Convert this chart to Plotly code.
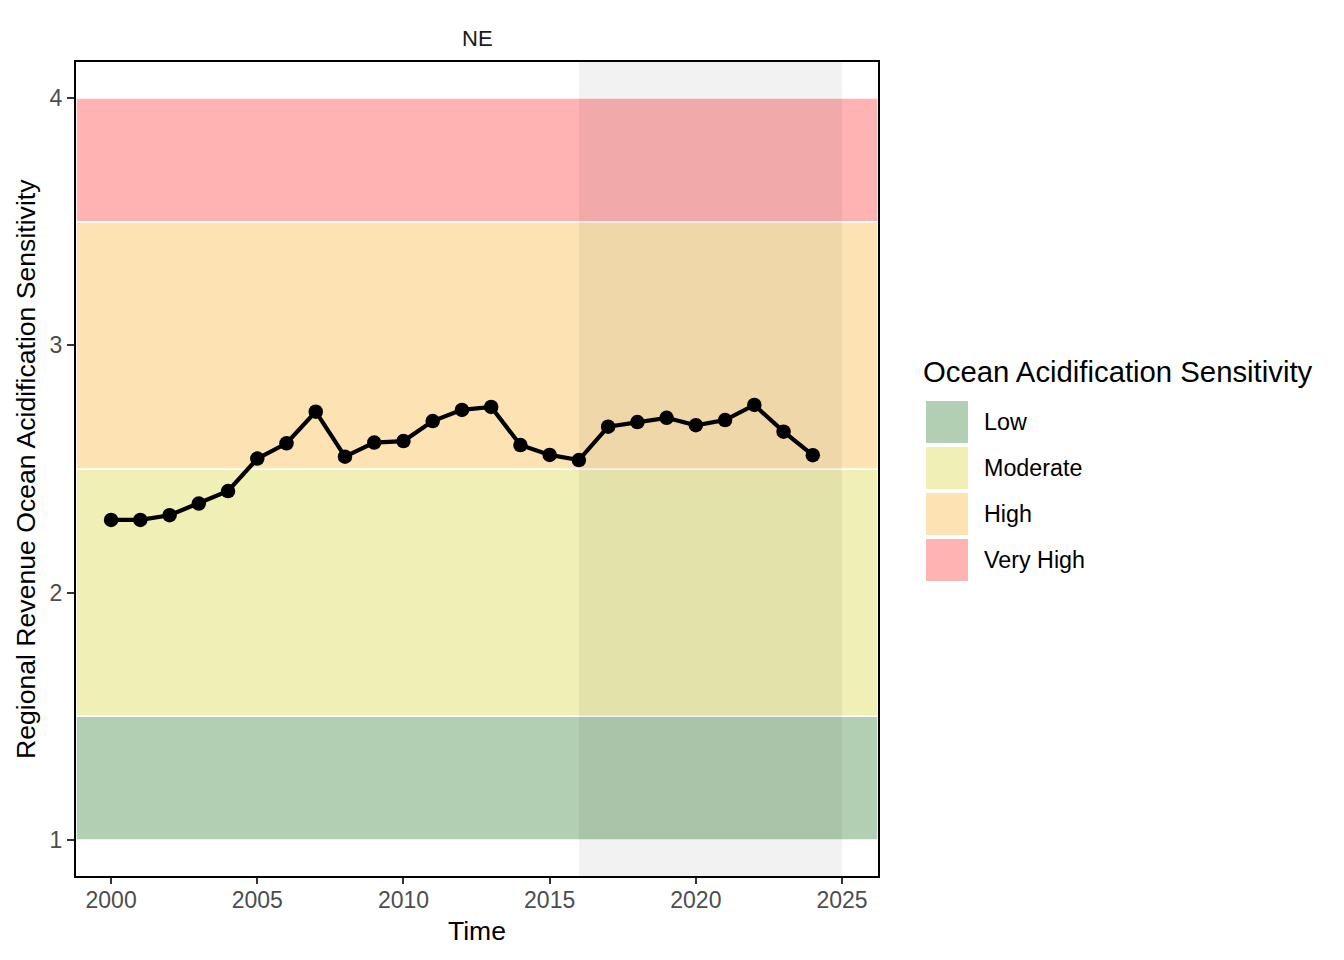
import plotly.graph_objects as go

years = list(range(2000, 2025))
values = [2.294, 2.294, 2.313, 2.360, 2.411, 2.542, 2.604, 2.732, 2.550, 2.607,
          2.613, 2.694, 2.739, 2.751, 2.597, 2.557, 2.536, 2.671, 2.690, 2.707,
          2.677, 2.698, 2.759, 2.651, 2.556]

band_labels = ["Low", "Moderate", "High", "Very High"]
band_lo = [1.0, 1.5, 2.5, 3.5]
band_hi = [1.5, 2.5, 3.5, 4.0]
band_colors = ["#b3cfb3", "#f0efb5", "#fde3b4", "#ffb3b3"]

shade_start, shade_end = 2016, 2025
x_ticks = [2000, 2005, 2010, 2015, 2020, 2025]
y_ticks = [1, 2, 3, 4]
facet_title = "NE"
legend_title = "Ocean Acidification Sensitivity"
x_title = "Time"
y_title = "Regional Revenue Ocean Acidification Sensitivity"

W, H = 1344, 960
OFF = 7  # page offset of the figure
L, R, T, B = 75, 877, 61, 875  # plot area in screen pixels

def px(x):
    return (x - L) / (R - L)

def py(y):
    return 1 - (y - T) / (B - T)

FONT = "Liberation Sans, Arial, sans-serif"

fig = go.Figure()
fig.add_trace(go.Scatter(
    x=years, y=values, mode="lines+markers",
    line=dict(color="black", width=4.2),
    marker=dict(color="black", size=14.5),
    showlegend=False, hoverinfo="x+y"))

shapes = []
for lo, hi, c in zip(band_lo, band_hi, band_colors):
    shapes.append(dict(type="rect", xref="x domain", yref="y", x0=0, x1=1, y0=lo, y1=hi,
                       fillcolor=c, line=dict(color="white", width=1.5), layer="below"))
shapes.append(dict(type="rect", xref="x", yref="y domain", x0=shade_start, x1=shade_end,
                   y0=0, y1=1, fillcolor="rgba(0,0,0,0.05)", line=dict(width=0), layer="below"))

annotations = [
    dict(text=facet_title, xref="paper", yref="paper", x=0.5, y=py(38),
         showarrow=False, font=dict(family=FONT, size=22, color="#1a1a1a"),
         xanchor="center", yanchor="middle"),
    dict(text=x_title, xref="paper", yref="paper", x=0.5, y=py(930),
         showarrow=False, font=dict(family=FONT, size=26.5, color="black"),
         xanchor="center", yanchor="middle"),
    dict(text=y_title, xref="paper", yref="paper", x=px(25), y=py(468), textangle=-90,
         showarrow=False, font=dict(family=FONT, size=26.6, color="black"),
         xanchor="center", yanchor="middle"),
]

# manual legend
annotations.append(dict(text=legend_title, xref="paper", yref="paper", x=px(920), y=py(370),
                        showarrow=False, font=dict(family=FONT, size=29.3, color="black"),
                        xanchor="left", yanchor="middle"))
key_top = 400
for i, (lab, c) in enumerate(zip(band_labels, band_colors)):
    y0 = key_top + i * 46
    shapes.append(dict(type="rect", xref="paper", yref="paper",
                       x0=px(925), x1=px(967), y0=py(y0 + 42), y1=py(y0),
                       fillcolor=c, line=dict(width=0)))
    annotations.append(dict(text=lab, xref="paper", yref="paper", x=px(981), y=py(y0 + 21),
                            showarrow=False, font=dict(family=FONT, size=23.3, color="black"),
                            xanchor="left", yanchor="middle"))

fig.update_layout(
    width=W, height=H,
    margin=dict(l=L - OFF, r=W - (R - OFF), t=T - OFF, b=H - (B - OFF)),
    plot_bgcolor="white", paper_bgcolor="white",
    font=dict(family=FONT),
    shapes=shapes, annotations=annotations, showlegend=False,
    xaxis=dict(range=[1998.8, 2026.23], tickvals=x_ticks, ticks="outside", ticklen=6,
               tickwidth=2, tickcolor="#333333", showgrid=False, zeroline=False,
               showline=True, linecolor="black", linewidth=2, mirror=True,
               ticklabelstandoff=-4,
               tickfont=dict(family=FONT, size=23, color="#4d4d4d")),
    yaxis=dict(range=[0.854, 4.146], tickvals=y_ticks, ticks="outside", ticklen=7,
               tickwidth=2, tickcolor="#333333", showgrid=False, zeroline=False,
               showline=True, linecolor="black", linewidth=2, mirror=True,
               tickfont=dict(family=FONT, size=23, color="#4d4d4d")),
)

fig.write_html("out.html")
